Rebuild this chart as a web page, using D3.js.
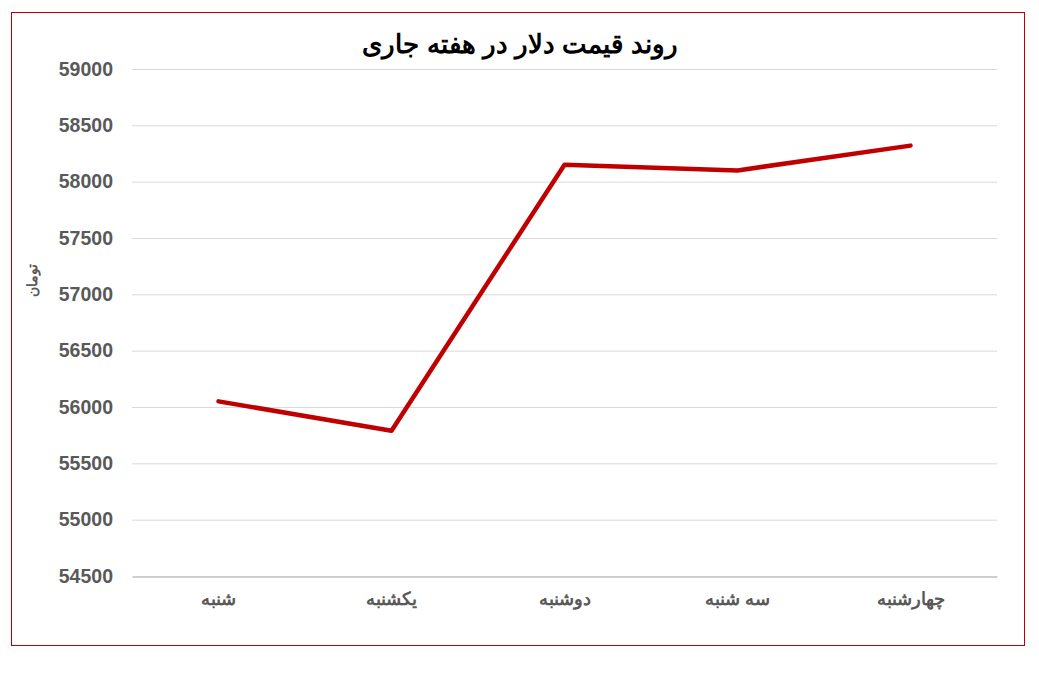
<!DOCTYPE html>
<html><head><meta charset="utf-8">
<script src="https://cdn.jsdelivr.net/npm/d3@7"></script>
<style>body{margin:0;background:#fff}svg{display:block}</style>
</head><body>
<svg id="c" width="1039" height="673"></svg>
<script>
const categories = ["شنبه","یکشنبه","دوشنبه","سه شنبه","چهارشنبه"];
const prices = [56050, 55790, 58150, 58100, 58320];
const yTicks = [54500,55000,55500,56000,56500,57000,57500,58000,58500,59000];
const title = "روند قیمت دلار در هفته جاری";
const yTitle = "تومان";

const svg = d3.select("#c");
svg.append("rect").attr("x",11.5).attr("y",12.5).attr("width",1013).attr("height",633)
  .attr("fill","#fff").attr("stroke","#C00000").attr("stroke-width",1);

const m = {l:132, r:997, t:69, b:576};
const x = d3.scaleBand().domain(categories).range([m.l, m.r]);
const y = d3.scaleLinear().domain([54500,59000]).range([m.b, m.t]);

svg.append("g").selectAll("line").data(yTicks.filter(d=>d>54500)).join("line")
  .attr("x1",m.l).attr("x2",m.r).attr("y1",d=>y(d)+0.5).attr("y2",d=>y(d)+0.5)
  .attr("stroke","#D9D9D9").attr("stroke-width",1);

const yAxis = d3.axisLeft(y).tickValues(yTicks).tickSize(0).tickPadding(19).tickFormat(d3.format("d"));
const gy = svg.append("g").attr("transform",`translate(${m.l},0)`).call(yAxis);
gy.select(".domain").remove();
gy.selectAll("text").attr("fill","#595959").attr("font-family","Arial, 'Liberation Sans', sans-serif")
  .attr("font-size",19.5).attr("font-weight","bold");

const xAxis = d3.axisBottom(x).tickSize(0).tickPadding(16);
const gx = svg.append("g").attr("transform",`translate(0,${m.b+0.5})`).call(xAxis);
gx.select(".domain").attr("stroke","#BFBFBF").attr("stroke-width",1.5);
gx.selectAll("text").attr("fill","#595959").attr("font-family","Arial, 'Liberation Sans', sans-serif")
  .attr("font-size",17.5).attr("font-weight","bold");

const line = d3.line().x((d,i)=>x(categories[i])+x.bandwidth()/2).y(d=>y(d));
svg.append("path").datum(prices).attr("d",line).attr("fill","none")
  .attr("stroke","#C00000").attr("stroke-width",4.5).attr("stroke-linejoin","round").attr("stroke-linecap","round");

svg.append("text").attr("x",520).attr("y",53).attr("text-anchor","middle")
  .attr("font-family","Arial, 'Liberation Sans', sans-serif").attr("font-size",26).attr("font-weight","bold")
  .attr("fill","#000").text(title);

svg.append("text").attr("transform","translate(37,280) rotate(-90)").attr("text-anchor","middle")
  .attr("font-family","Arial, 'Liberation Sans', sans-serif").attr("font-size",14).attr("font-weight","bold")
  .attr("fill","#595959").text(yTitle);
</script>
</body></html>
